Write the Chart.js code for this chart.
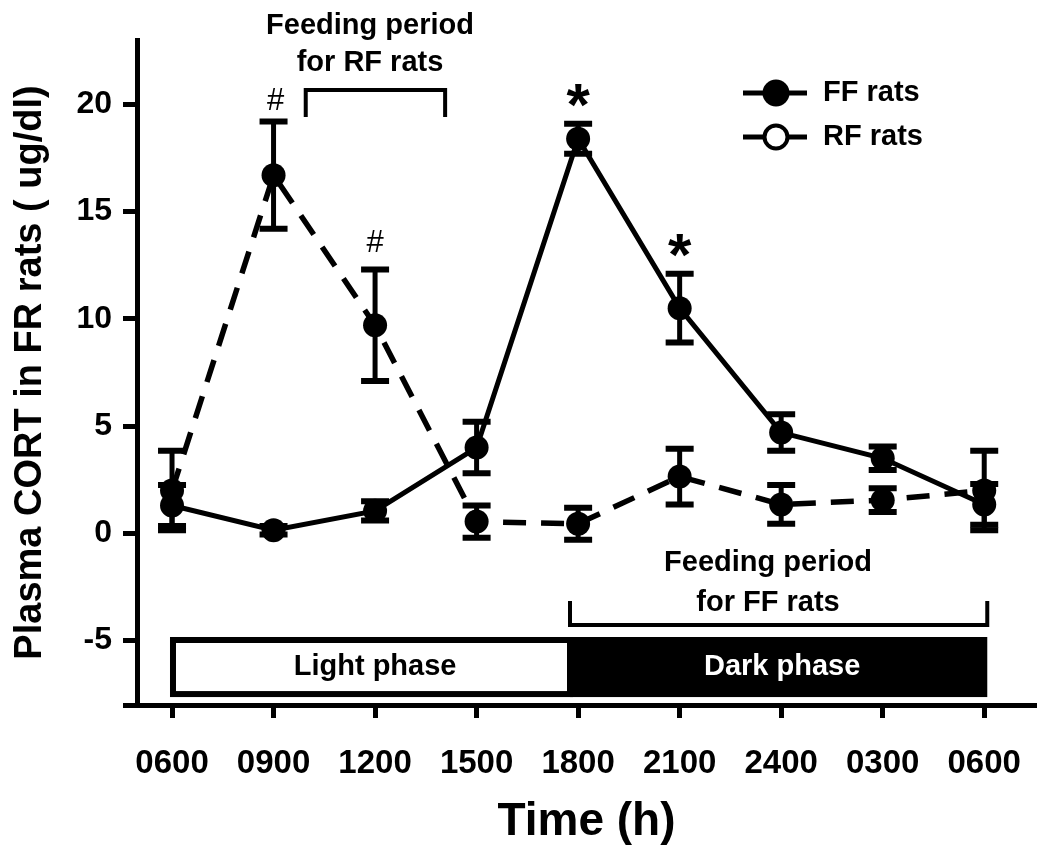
<!DOCTYPE html>
<html><head><meta charset="utf-8">
<script src="https://cdn.jsdelivr.net/npm/chart.js@4"></script>
<style>html,body{margin:0;padding:0;background:#fff}canvas{display:block}</style>
</head><body>
<canvas id="c" width="1050" height="851"></canvas>
<script>
// ---- data ----
const timeLabels = ['0600','0900','1200','1500','1800','2100','2400','0300','0600'];
const ffMean = [1.3, 0.15, 1.05, 4.0, 18.4, 10.5, 4.7, 3.5, 1.35];
const ffErr  = [0.95, 0.2, 0.45, 1.2, 0.7, 1.6, 0.85, 0.55, 0.95];
const rfMean = [2.0, 16.7, 9.7, 0.55, 0.45, 2.65, 1.35, 1.55, 2.0];
const rfErr  = [1.85, 2.5, 2.6, 0.75, 0.75, 1.3, 0.9, 0.55, 1.85];
const yTickValues = [-8, -5, 0, 5, 10, 15, 20];
const seriesNames = ['FF rats', 'RF rats'];

const ARIAL = "'Liberation Sans', Arial, sans-serif";

const errorBarPlugin = {
  id: 'errbars',
  afterDatasetsDraw(chart) {
    const ctx = chart.ctx, ys = chart.scales.y;
    chart.data.datasets.forEach((ds, di) => {
      const meta = chart.getDatasetMeta(di);
      meta.data.forEach((pt, i) => {
        const v = ds.data[i].y, e = ds.errors[i];
        const x = pt.x, yt = ys.getPixelForValue(v + e), yb = ys.getPixelForValue(v - e);
        ctx.save();
        ctx.strokeStyle = '#000';
        ctx.lineWidth = 5;
        ctx.beginPath(); ctx.moveTo(x, yt); ctx.lineTo(x, yb); ctx.stroke();
        ctx.lineWidth = 6;
        ctx.beginPath();
        ctx.moveTo(x - 14, yt); ctx.lineTo(x + 14, yt);
        ctx.moveTo(x - 14, yb); ctx.lineTo(x + 14, yb);
        ctx.stroke();
        ctx.restore();
      });
    });
  }
};

function glyphCentered(ctx, text, cx, cy) {
  ctx.textAlign = 'center';
  ctx.textBaseline = 'alphabetic';
  const m = ctx.measureText(text);
  const y = cy + (m.actualBoundingBoxAscent - m.actualBoundingBoxDescent) / 2;
  ctx.fillText(text, cx, y);
}

const annotPlugin = {
  id: 'annots',
  afterDraw(chart) {
    const ctx = chart.ctx, xs = chart.scales.x, ys = chart.scales.y;
    const X = v => xs.getPixelForValue(v), Y = v => ys.getPixelForValue(v);
    ctx.save();
    ctx.fillStyle = '#000'; ctx.strokeStyle = '#000';
    // phase boxes
    const bx0 = X(-0.02), bx1 = X(3.92), bx2 = X(8.03), by0 = Y(-4.83), by1 = Y(-7.63);
    ctx.fillRect(bx1, by0, bx2 - bx1, by1 - by0);
    ctx.lineWidth = 6;
    ctx.strokeRect(bx0 + 3, by0 + 3, bx1 - bx0 - 3, by1 - by0 - 6);
    ctx.font = 'bold 29px ' + ARIAL;
    ctx.textAlign = 'center'; ctx.textBaseline = 'middle';
    ctx.fillText('Light phase', X(2.0), Y(-6.23));
    ctx.fillStyle = '#fff';
    ctx.fillText('Dark phase', X(6.01), Y(-6.23));
    ctx.fillStyle = '#000';
    // feeding period RF
    ctx.fillText('Feeding period', X(1.95), Y(23.65));
    ctx.fillText('for RF rats', X(1.95), Y(21.95));
    ctx.lineWidth = 4;
    ctx.beginPath();
    ctx.moveTo(X(1.317), Y(19.41)); ctx.lineTo(X(1.317), Y(20.67));
    ctx.lineTo(X(2.69), Y(20.67)); ctx.lineTo(X(2.69), Y(19.41));
    ctx.stroke();
    // feeding period FF
    ctx.fillText('Feeding period', X(5.87), Y(-1.38));
    ctx.fillText('for FF rats', X(5.87), Y(-3.24));
    ctx.beginPath();
    ctx.moveTo(X(3.92), Y(-3.15)); ctx.lineTo(X(3.92), Y(-4.27));
    ctx.lineTo(X(8.03), Y(-4.27)); ctx.lineTo(X(8.03), Y(-3.15));
    ctx.stroke();
    // significance marks
    ctx.font = '31px ' + ARIAL;
    glyphCentered(ctx, '#', X(1.02), Y(20.25));
    glyphCentered(ctx, '#', X(2.0), Y(13.63));
    ctx.font = 'bold 60px ' + ARIAL;
    glyphCentered(ctx, '*', X(4.0), Y(20.4));
    glyphCentered(ctx, '*', X(5.0), Y(13.4));
    // legend
    const rows = [{y: 93, fill: '#000'}, {y: 137, fill: '#fff'}];
    rows.forEach((r, i) => {
      ctx.lineWidth = 5; ctx.strokeStyle = '#000';
      ctx.beginPath(); ctx.moveTo(743, r.y); ctx.lineTo(807, r.y); ctx.stroke();
      ctx.beginPath(); ctx.arc(776, r.y, i === 0 ? 13.5 : 11.5, 0, Math.PI * 2);
      ctx.fillStyle = r.fill; ctx.fill();
      if (i === 1) { ctx.lineWidth = 4; ctx.stroke(); }
      ctx.fillStyle = '#000';
      ctx.font = 'bold 29px ' + ARIAL;
      ctx.textAlign = 'left'; ctx.textBaseline = 'middle';
      ctx.fillText(seriesNames[i], 823, r.y);
    });
    ctx.restore();
  }
};

const pointCommon = {
  borderColor: '#000', borderWidth: 5, pointRadius: 12, pointHoverRadius: 12,
  pointBackgroundColor: '#000', pointBorderColor: '#000', pointBorderWidth: 0,
  tension: 0, fill: false
};

new Chart(document.getElementById('c'), {
  type: 'line',
  data: {
    datasets: [
      Object.assign({label: seriesNames[0], data: ffMean.map((v, i) => ({x: i, y: v})), errors: ffErr}, pointCommon),
      Object.assign({label: seriesNames[1], data: rfMean.map((v, i) => ({x: i, y: v})), errors: rfErr, borderDash: [23, 15]}, pointCommon, {borderWidth: 5.5})
    ]
  },
  options: {
    responsive: false, animation: false, devicePixelRatio: 1,
    layout: {padding: {left: 0, right: 14, top: 40, bottom: 0}},
    plugins: {legend: {display: false}, tooltip: {enabled: false}},
    scales: {
      x: {
        type: 'linear', min: -0.345, max: 8.51,
        afterBuildTicks: s => { s.ticks = timeLabels.map((_, i) => ({value: i})); },
        afterFit: s => { s.height = 146; },
        ticks: {callback: v => timeLabels[v], color: '#000', padding: 26, maxRotation: 0, autoSkip: false,
                font: {family: ARIAL, size: 33, weight: 'bold'}},
        grid: {drawOnChartArea: false, tickLength: 13, tickWidth: 5, tickColor: '#000'},
        border: {display: true, width: 5, color: '#000'},
        title: {display: true, text: 'Time (h)', color: '#000', font: {family: ARIAL, size: 46, weight: 'bold', lineHeight: 1.0}, padding: {top: 0, bottom: 6}}
      },
      y: {
        min: -8, max: 23,
        afterBuildTicks: s => { s.ticks = yTickValues.map(v => ({value: v})); },
        afterFit: s => { s.width = 137; },
        ticks: {callback: v => (v === -8 ? '' : String(v)), color: '#000', padding: 11,
                font: {family: ARIAL, size: 32, weight: 'bold'}},
        grid: {drawOnChartArea: false, tickLength: 14, tickWidth: 5, tickColor: '#000'},
        border: {display: true, width: 5, color: '#000'},
        title: {display: true, text: 'Plasma CORT in FR rats ( ug/dl)', color: '#000', font: {family: ARIAL, size: 38, weight: 'bold', lineHeight: 1.2}, padding: {top: 8, bottom: 0}}
      }
    }
  },
  plugins: [errorBarPlugin, annotPlugin]
});
</script>
</body></html>
